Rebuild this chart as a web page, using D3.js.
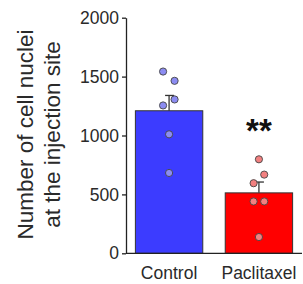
<!DOCTYPE html>
<html>
  <head>
    <meta charset="utf-8">
    <script src="https://cdnjs.cloudflare.com/ajax/libs/d3/7.8.5/d3.min.js"></script>
    <style>
      body { margin: 0; background: #fff; }
      svg { font-family: "Liberation Sans", Arial, sans-serif; }
      .axis text { fill: #2a2a2a; font-size: 17.5px; }
      .axis path, .axis line { stroke: #222; stroke-width: 1.3; }
    </style>
  </head>
  <body>
    <svg id="chart" width="303" height="284"></svg>
    <script>
      // data
      groups = ["Control", "Paclitaxel"];
      means = [1210, 513];
      sems = [130, 92];
      controlPoints = [1543, 1464, 1306, 1255, 1010, 682];
      paclitaxelPoints = [798, 668, 595, 440, 440, 138];
      pointOffsets = [[-6, 5.5, 5.5, -6, 0, 0], [0, 5.3, -5.3, -5.3, 5.3, 0]];
      yTicks = [0, 500, 1000, 1500, 2000];
      barFill = ["#3c3cff", "#ff0000"];
      dotFill = ["#8c8cf2", "#f28080"];

      svg = d3.select("#chart");
      y = d3.scaleLinear()
        .domain([0, 2000])
        .range([253.3, 17.7]);
      x = d3.scaleBand()
        .domain(groups)
        .range([130, 298])
        .paddingInner(0.25)
        .paddingOuter(0.06);
      // y axis
      svg.append("g")
        .attr("class", "axis")
        .attr("transform", "translate(126,0)")
        .call(d3.axisLeft(y).tickValues(yTicks).tickFormat(d3.format("d"))
          .tickSize(4).tickPadding(3).tickSizeOuter(0));
      // bars
      svg.selectAll(".bar")
          .data(groups)
        .enter().append("rect")
          .attr("x", function(d) { return x(d); })
          .attr("width", x.bandwidth())
          .attr("y", function(d, i) { return y(means[i]); })
          .attr("height", function(d, i) { return y(0) - y(means[i]); })
          .style("fill", function(d, i) { return barFill[i]; })
          .style("stroke", "#333")
          .style("stroke-width", 1);
      // error bars (upper only)
      errs = svg.selectAll(".err")
          .data(groups)
        .enter().append("g");
      errs.append("line")
        .attr("x1", function(d) { return x(d) + x.bandwidth() / 2; })
        .attr("x2", function(d) { return x(d) + x.bandwidth() / 2; })
        .attr("y1", function(d, i) { return y(means[i]); })
        .attr("y2", function(d, i) { return y(means[i] + sems[i]); });
      errs.append("line")
        .attr("x1", function(d) { return x(d) + x.bandwidth() / 2 - 4; })
        .attr("x2", function(d) { return x(d) + x.bandwidth() / 2 + 5; })
        .attr("y1", function(d, i) { return y(means[i] + sems[i]); })
        .attr("y2", function(d, i) { return y(means[i] + sems[i]); });
      errs.selectAll("line")
        .style("stroke", "#333")
        .style("stroke-width", 1.3);
      // x axis line
      svg.append("line")
        .attr("x1", 126).attr("x2", 302)
        .attr("y1", y(0)).attr("y2", y(0))
        .style("stroke", "#222")
        .style("stroke-width", 1.3);
      // points
      [controlPoints, paclitaxelPoints].forEach(function(pts, g) {
        svg.selectAll(".dot" + g)
            .data(pts)
          .enter().append("circle")
            .attr("cx", function(d, i) { return x(groups[g]) + x.bandwidth() / 2 + pointOffsets[g][i]; })
            .attr("cy", function(d) { return y(d); })
            .attr("r", 3.6)
            .style("fill", dotFill[g])
            .style("stroke", "#444")
            .style("stroke-width", 0.9);
      });
      // x labels
      svg.selectAll(".xlab")
          .data(groups)
        .enter().append("text")
          .attr("x", function(d) { return x(d) + x.bandwidth() / 2; })
          .attr("y", 279)
          .attr("text-anchor", "middle")
          .style("font-size", "17.5px")
          .style("fill", "#2a2a2a")
          .text(function(d) { return d; });
      // significance
      svg.append("text")
        .attr("x", x("Paclitaxel") + x.bandwidth() / 2)
        .attr("y", 142)
        .attr("text-anchor", "middle")
        .style("font-size", "33px")
        .style("font-weight", "bold")
        .style("fill", "#111")
        .text("**");
      // y label
      ylab = svg.append("text")
        .attr("transform", "translate(33,134.5) rotate(-90)")
        .attr("text-anchor", "middle")
        .style("font-size", "22.5px")
        .style("fill", "#2a2a2a");
      ylab.append("tspan").attr("x", 0).attr("y", 0).text("Number of cell nuclei");
      ylab.append("tspan").attr("x", 0).attr("y", 27).text("at the injection site");
    </script>
  </body>
</html>
